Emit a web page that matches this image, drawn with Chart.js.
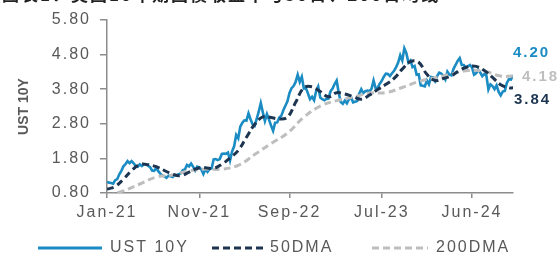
<!DOCTYPE html>
<html><head><meta charset="utf-8">
<script src="https://cdn.jsdelivr.net/npm/chart.js@4.4.1/dist/chart.umd.min.js"></script>
<style>
html,body{margin:0;padding:0;background:#fff;overflow:hidden}
#wrap{position:relative;width:559px;height:255px;overflow:hidden}
#title{position:absolute;left:2px;top:-15px;font:bold 17px "Noto Sans CJK SC";letter-spacing:2px;color:#222;white-space:nowrap;line-height:18px}
canvas{position:absolute;left:0;top:0}
</style></head><body>
<div id="wrap"><canvas id="c" width="559" height="255" style="width:559px;height:255px"></canvas><div id="title">图表1：美国10年期国债收益率与50日、200日均线</div></div>
<script>
// Weekly UST 10Y yield, Jan-2021 .. Oct-2024 (%)
const ust10y = [
 1.12,1.10,1.09,1.07,1.17,1.20,1.34,1.44,1.57,1.63, 1.72,1.66,1.72,1.66,1.58,1.56,1.63,1.58,1.63,1.62,
 1.59,1.55,1.45,1.44,1.52,1.43,1.36,1.30,1.28,1.24, 1.30,1.28,1.26,1.31,1.32,1.34,1.37,1.46,1.48,1.61,
 1.57,1.65,1.56,1.45,1.56,1.54,1.48,1.35,1.49,1.41, 1.49,1.51,
 1.77,1.78,1.75,1.78,1.93,1.94,1.93,1.97,1.74,2.00, 2.15,2.48,2.38,2.72,2.83,2.90,2.89,3.10,2.93,2.78,
 2.74,2.94,3.15,3.40,3.13,2.88,3.08,2.92,2.75,2.60, 2.83,2.84,2.98,3.03,3.19,3.32,3.45,3.69,3.83,3.89,
 4.01,4.22,4.01,4.16,3.82,3.83,3.68,3.51,3.58,3.48, 3.75,3.88,
 3.56,3.51,3.48,3.52,3.53,3.74,3.82,3.95,4.05,3.70, 3.43,3.38,3.47,3.39,3.51,3.57,3.42,3.44,3.46,3.67,
 3.80,3.69,3.74,3.76,3.74,3.81,4.05,3.83,3.84,3.96, 4.04,4.16,4.25,4.24,4.18,4.26,4.33,4.44,4.57,4.78,
 4.63,4.98,4.84,4.57,4.63,4.44,4.47,4.22,4.23,3.91, 3.90,3.88,
 4.05,3.94,4.15,4.14,4.03,4.18,4.28,4.25,4.19,4.08, 4.31,4.22,4.20,4.39,4.50,4.62,4.70,4.50,4.50,4.42,
 4.46,4.50,4.43,4.22,4.26,4.36,4.28,4.18,4.24,4.20, 3.79,3.94,3.89,3.80,3.91,3.72,3.62,3.73,3.75,3.98,
 4.09,4.08,4.20
];
// 50-day moving average, read at week positions
const ma50Week = [0,4,8,12,16,20,24,28,32,36,40,44,48,52,56,60,64,68,72,76,80,84,88,92,96,100,104,108,112,116,120,124,128,132,136,140,144,148,152,156,160,164,168,172,176,180,184,188,192,196,198];
const ma50 = [0.91,0.99,1.20,1.45,1.62,1.62,1.56,1.45,1.34,1.30,1.40,1.51,1.53,1.51,1.63,1.81,2.03,2.41,2.78,3.00,2.98,2.94,2.99,3.42,3.84,3.87,3.73,3.58,3.70,3.66,3.59,3.51,3.63,3.79,3.94,4.11,4.38,4.60,4.58,4.23,4.05,4.11,4.19,4.35,4.45,4.46,4.34,4.14,3.93,3.84,3.84];
// 200-day moving average, read at week positions
const ma200Week = [0,8,16,24,32,40,48,56,64,72,80,88,96,104,112,120,128,136,144,152,160,168,176,184,192,198];
const ma200 = [0.72,0.86,1.06,1.26,1.32,1.44,1.49,1.49,1.60,1.91,2.23,2.53,2.99,3.31,3.47,3.57,3.69,3.70,3.85,4.02,4.13,4.24,4.34,4.32,4.18,4.18];

const tickWeek = [0,45,89,134,178];
const tickLabels = ['Jan-21','Nov-21','Sep-22','Jul-23','Jun-24'];
const yTicks = [0.8,1.8,2.8,3.8,4.8,5.8];
const seriesNames = ['UST 10Y','50DMA','200DMA'];
const yTitle = 'UST 10Y';

const COLORS = ['#1A8CC3','#1D3550','#BEBEBE'];
const FONT = 'Liberation Sans';
const pts = (xs, ys) => ys.map((v,i)=>({x:xs[i], y:v}));

const extras = {
  id:'extras',
  beforeDraw(chart){ chart.ctx.letterSpacing = '2px'; },
  afterDatasetsDraw(chart){
    const {ctx, scales:{x,y}} = chart;
    const last = ust10y.length-1;
    const px = x.getPixelForValue(last);
    ctx.save();
    ctx.letterSpacing = '2px';
    ctx.font = `bold 15px "${FONT}"`;
    ctx.textBaseline = 'middle'; ctx.textAlign = 'left';
    const vals = [ust10y[last], ma50[ma50.length-1], ma200[ma200.length-1]];
    const off = [[0,-23],[1,12],[9,1]];
    vals.forEach((v,i)=>{
      ctx.fillStyle = COLORS[i];
      ctx.fillText(v.toFixed(2), px+off[i][0], y.getPixelForValue(v)+off[i][1]);
    });
    ctx.restore();
  },
  afterDraw(chart){
    const {ctx, chartArea} = chart;
    ctx.save();
    ctx.letterSpacing = '0px';
    ctx.translate(24, (chartArea.top+chartArea.bottom)/2);
    ctx.rotate(-Math.PI/2);
    ctx.font = `bold 14px "${FONT}"`;
    ctx.fillStyle = '#595959';
    ctx.textAlign = 'center'; ctx.textBaseline = 'middle';
    ctx.fillText(yTitle, 0, 0);
    ctx.restore();
    // legend
    ctx.save();
    ctx.letterSpacing = '2px';
    ctx.font = `16px "${FONT}"`;
    ctx.textBaseline = 'middle'; ctx.textAlign = 'left';
    const ly = 248;
    const items = [{x0:38, len:64, gap:8, dash:[]},{x0:212, len:52, gap:6, dash:[7,4]},{x0:372, len:56, gap:8, dash:[7,4]}];
    items.forEach((it,i)=>{
      ctx.strokeStyle = COLORS[i];
      ctx.lineWidth = 3;
      ctx.setLineDash(it.dash);
      ctx.beginPath(); ctx.moveTo(it.x0, ly); ctx.lineTo(it.x0+it.len, ly); ctx.stroke();
      ctx.fillStyle = '#595959';
      ctx.fillText(seriesNames[i], it.x0+it.len+it.gap, ly);
    });
    ctx.restore();
  }
};

new Chart(document.getElementById('c').getContext('2d'), {
  type:'line',
  data:{datasets:[
    {label:seriesNames[0], data:pts(ust10y.map((_,i)=>i), ust10y), borderColor:COLORS[0], borderWidth:2.6, pointRadius:0, tension:0, order:3},
    {label:seriesNames[1], data:pts(ma50Week, ma50), borderColor:COLORS[1], borderWidth:3, borderDash:[7,4], pointRadius:0, tension:0.4, order:1},
    {label:seriesNames[2], data:pts(ma200Week, ma200), borderColor:COLORS[2], borderWidth:3, borderDash:[7,4], pointRadius:0, tension:0.4, order:2}
  ]},
  options:{
    responsive:false, animation:false, events:[],
    layout:{padding:{left:0,right:46,top:20,bottom:0}},
    plugins:{legend:{display:false}, tooltip:{enabled:false}},
    scales:{
      x:{type:'linear', min:0, max:ust10y.length-1,
        afterBuildTicks:s=>{ s.ticks = tickWeek.map(v=>({value:v})); },
        afterFit:s=>{ s.height = 62; },
        ticks:{autoSkip:false, maxRotation:0, padding:5, color:'#595959', font:{family:FONT,size:16},
          callback:v=>tickLabels[tickWeek.indexOf(v)]},
        grid:{drawOnChartArea:false, tickLength:5, color:'#8C8C8C', lineWidth:1.5},
        border:{color:'#8C8C8C', width:1.5}},
      y:{min:0.8, max:5.8,
        afterBuildTicks:s=>{ s.ticks = yTicks.map(v=>({value:v})); },
        afterFit:s=>{ s.width = 107; },
        ticks:{padding:9, color:'#595959', font:{family:FONT,size:16}, callback:v=>v.toFixed(2)},
        grid:{drawOnChartArea:false, tickLength:7, color:'#8C8C8C', lineWidth:1.5},
        border:{color:'#8C8C8C', width:1.5}}
    }
  },
  plugins:[extras]
});
</script>
</body></html>
